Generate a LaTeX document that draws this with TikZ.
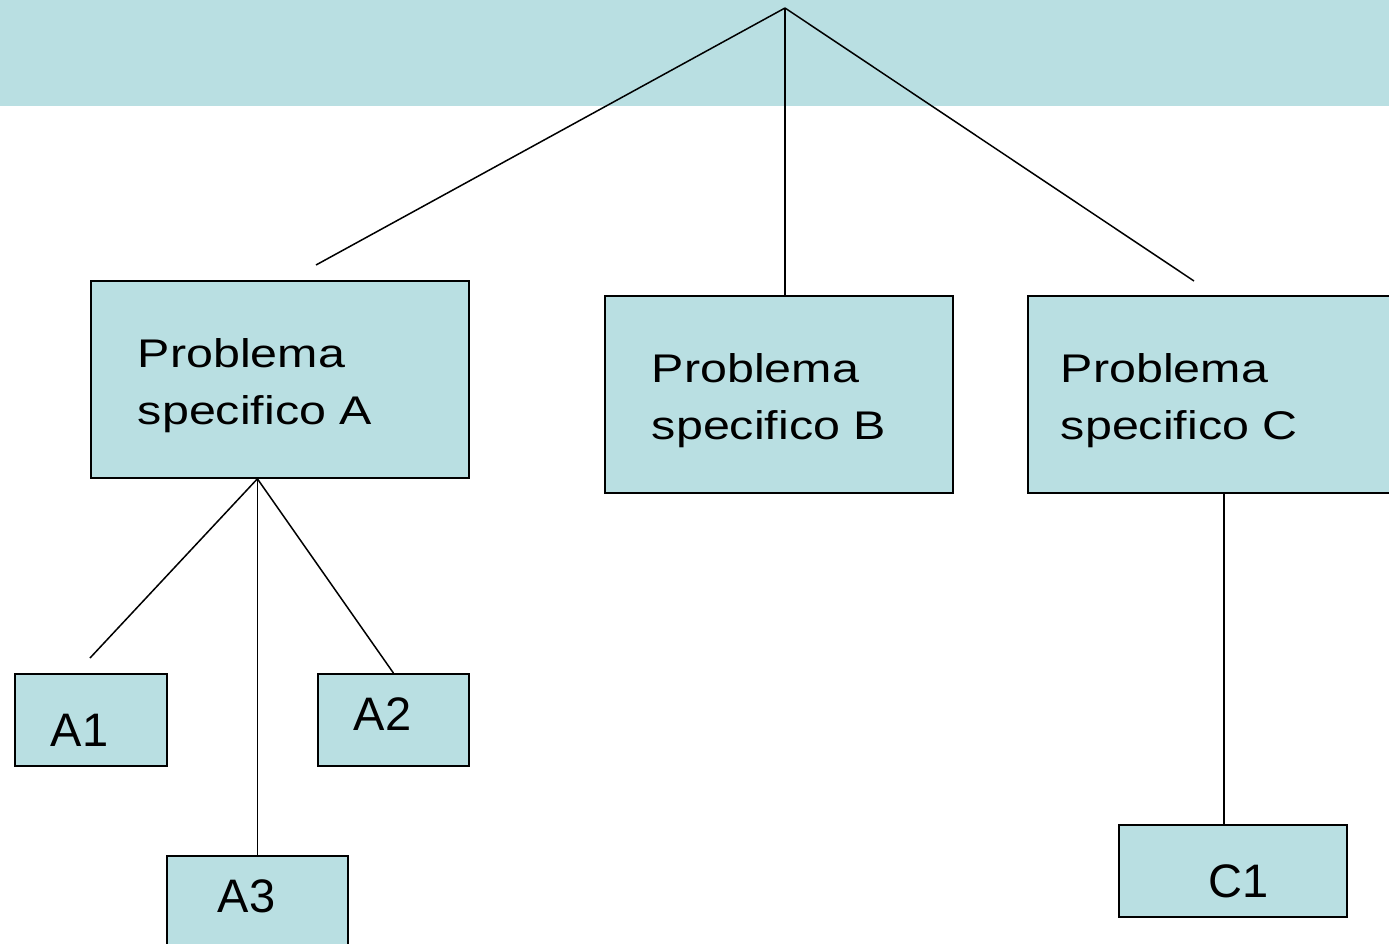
\documentclass[tikz,border=0pt]{standalone}
\usepackage{fontspec}
\setmainfont{Liberation Sans}
\newfontfamily\probfont[FakeStretch=1.21]{Liberation Sans}
\definecolor{boxcyan}{HTML}{B9DFE2}

\begin{document}
\begin{tikzpicture}[
    x=1pt, y=-1pt,
    problem/.style={
        rectangle,
        anchor=north west,
        draw=black,
        line width=1.8pt,
        fill=boxcyan,
        inner ysep=0pt,
        align=left,
        text height=87pt,
        text depth=110pt,
        font=\probfont\fontsize{40}{57}\selectfont
    },
    subproblem/.style={
        rectangle,
        anchor=north west,
        draw=black,
        line width=1.8pt,
        fill=boxcyan,
        inner ysep=0pt,
        align=left,
        font=\fontsize{47}{56}\selectfont
    },
    link/.style={
        line width=1.5pt
    }
]
\useasboundingbox (0,0) rectangle (1389,943);
\clip (0,0) rectangle (1389,943);

% Band
\fill[boxcyan] (0,0) rectangle (1389,106);

% Problems
\node[problem, inner xsep=47pt, text width=284pt] (a) at (90,280) {Problema\\specifico A};
\node[problem, inner xsep=47pt, text width=254pt] (b) at (604,295) {Problema\\specifico B};
\node[problem, inner xsep=33pt, text width=314pt] (c) at (1027,295) {Problema\\specifico C};

% Sub-problems
\node[subproblem, inner xsep=36pt, text width=80pt, text height=73pt, text depth=19pt] (a1) at (14,673) {A1};
\node[subproblem, inner xsep=36pt, text width=79pt, text height=57pt, text depth=35pt] (a2) at (317,673) {A2};
\node[subproblem, inner xsep=51pt, text width=79pt, text height=57pt, text depth=35pt] (a3) at (166,855) {A3};
\node[subproblem, inner xsep=78pt, text width=72pt, text height=73pt, text depth=19pt, align=right] (c1) at (1118,824) {C1};

% Ends
\coordinate (root) at (785,8);
\coordinate (aend) at (316,265);
\coordinate (cend) at (1194,281);
\coordinate (a1end) at (90,658);
\coordinate (asplit) at (a3.north |- a.south);
\coordinate (csplit) at (1224,492);

% Links
\draw[link] (root) -- (aend);
\draw[link] (root) -- (root |- b.north);
\draw[link] (root) -- (cend);
\draw[link] (asplit) -- (a1end);
\draw[link] (asplit) -- (a3.north);
\draw[link] (asplit) -- (a2.north);
\draw[link] (csplit) -- (csplit |- c1.north);

\end{tikzpicture}
\end{document}
